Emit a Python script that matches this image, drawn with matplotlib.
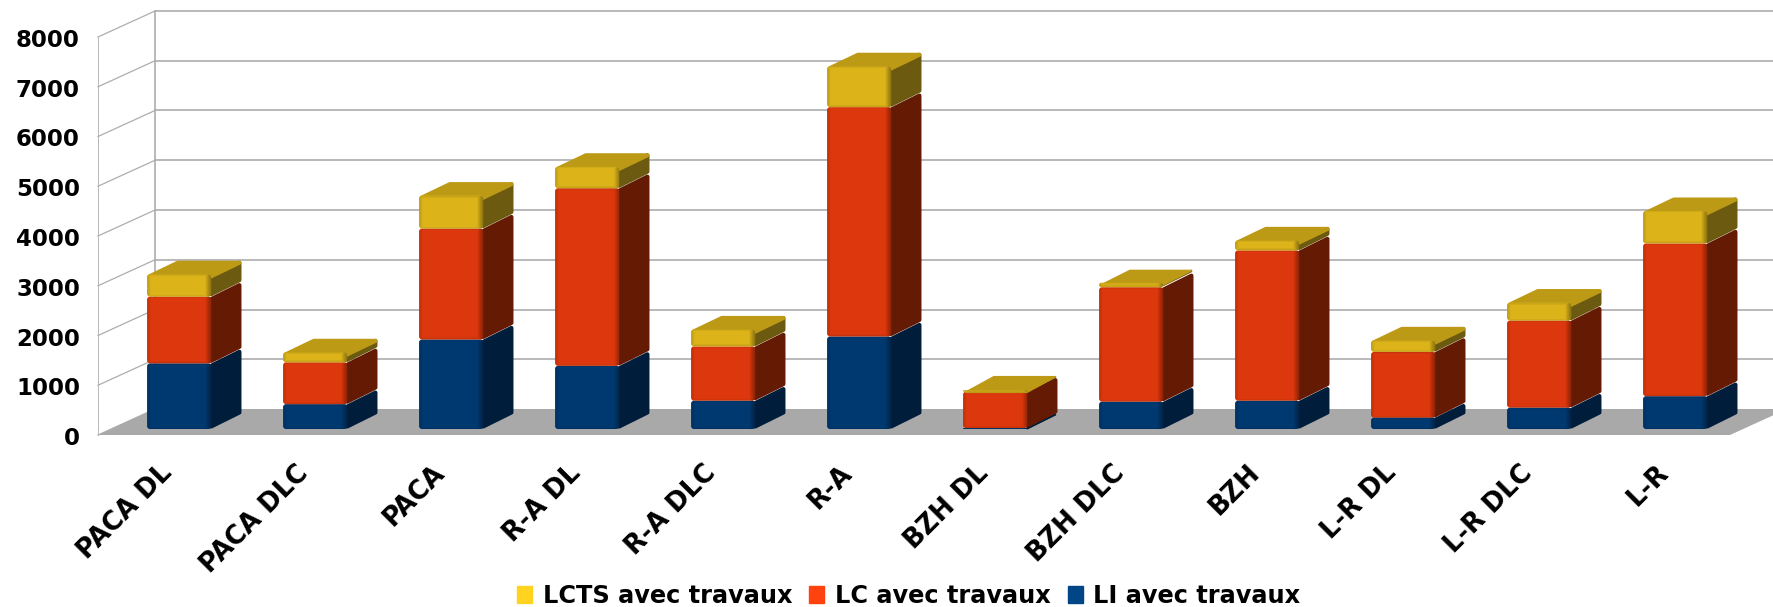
import numpy as np
import matplotlib
matplotlib.use('Agg')
import matplotlib.pyplot as plt
from matplotlib.colors import to_rgb
from matplotlib.patches import FancyBboxPatch, Patch, Polygon
from matplotlib.transforms import ScaledTranslation

categories = ['PACA DL', 'PACA DLC', 'PACA', 'R-A DL', 'R-A DLC', 'R-A',
              'BZH DL', 'BZH DLC', 'BZH', 'L-R DL', 'L-R DLC', 'L-R']
li = [1320, 500, 1800, 1270, 570, 1860, 20, 550, 570, 230, 430, 660]
lc = [1340, 840, 2230, 3570, 1090, 4610, 730, 2300, 3020, 1320, 1750, 3070]
lcts = [450, 200, 660, 430, 340, 820, 30, 90, 200, 230, 360, 650]
yticks = [0, 1000, 2000, 3000, 4000, 5000, 6000, 7000, 8000]

# couleurs: face avant, cote, dessus
BLUE = ('#00396f', '#001e3b', '#00396f')
RED = ('#dd380d', '#651a04', '#dd380d')
YELLOW = ('#dcb41a', '#6b5a10', '#bd9a16')

W, H = 1773, 607
PX_X = 1 / 136      # un pixel en unites de categorie
PX_Y = 8000 / 398   # un pixel en unites de valeur
DX = 57 * PX_X      # profondeur du plancher
DY = 26 * PX_Y
BAR_W = 64 * PX_X
D0 = 0.23           # debut des barres dans la profondeur
D1 = 0.77           # fin des barres
GRID = '#adadad'
FLOOR = '#a9a9a9'


def edge_shade(nx, ny, dark):
    # image RGBA: bords assombris pour imiter le relief
    xs = np.arange(nx) + 0.5
    ys = np.arange(ny) + 0.5
    left = np.clip(1 - xs / 4, 0, 1) * 0.35
    right = np.clip(1 - (nx - xs) / 6, 0, 1) * 0.8
    ax_part = np.maximum(left, right)
    edge = np.minimum(ys, ny - ys)
    ay_part = np.clip(1 - edge / 2.5, 0, 1) * 0.25
    alpha = np.maximum(ax_part[None, :], ay_part[:, None])
    img = np.zeros((ny, nx, 4))
    img[..., :3] = to_rgb(dark)
    img[..., 3] = alpha
    return img


def draw_segment(ax, x0, base, height, colors, z, top=False):
    x1 = x0 + BAR_W
    y0 = base + D0 * DY
    y1 = y0 + height
    ddx = (D1 - D0) * DX
    ddy = (D1 - D0) * DY
    # retrait + trait epais a joint rond = coins arrondis
    ins_y = min(2.5 * PX_Y, height * 0.4)
    ins_x = 2.5 * PX_X
    lw = 3.0 if height > 6 * PX_Y else 1.2

    side = Polygon([(x1, y0 + ins_y), (x1 + ddx - ins_x, y0 + ddy + ins_y),
                    (x1 + ddx - ins_x, y1 + ddy - ins_y), (x1, y1 - ins_y)],
                   closed=True, fc=colors[1], ec=colors[1], lw=lw,
                   joinstyle='round', zorder=z, clip_on=False)
    ax.add_patch(side)
    if top:
        roof = Polygon([(x0 + ins_x, y1 - 2 * PX_Y), (x1, y1 - 2 * PX_Y),
                        (x1 + ddx - ins_x, y1 + ddy - ins_y),
                        (x0 + ddx, y1 + ddy - ins_y)],
                       closed=True, fc=colors[2], ec=colors[2], lw=lw,
                       joinstyle='round', zorder=z + 0.05, clip_on=False)
        ax.add_patch(roof)

    ry = min(3 * PX_Y, height / 2)
    rx = ry * PX_X / PX_Y
    face = FancyBboxPatch((x0 + rx, y0 + ry), BAR_W - 2 * rx, height - 2 * ry,
                          boxstyle='round,pad=%f,rounding_size=%f' % (rx, rx),
                          mutation_aspect=PX_Y / PX_X,
                          fc=colors[0], ec='none', zorder=z + 0.1, clip_on=False)
    ax.add_patch(face)
    ny = max(int(round(height / PX_Y)), 2)
    dark = tuple(0.55 * c for c in to_rgb(colors[0]))
    im = ax.imshow(edge_shade(64, ny, dark), extent=[x0, x1, y0, y1],
                   aspect='auto', zorder=z + 0.2, interpolation='bilinear')
    im.set_clip_path(face)


fig = plt.figure(figsize=(W / 100, H / 100), dpi=100)
ax = fig.add_axes([98 / W, (H - 435) / H, 1632 / W, 398 / H])
n = len(categories)

# plancher et parois
ax.add_patch(Polygon([(0, 0), (n, 0), (n + DX, DY), (DX, DY)], closed=True,
                     fc=FLOOR, ec='none', zorder=1, clip_on=False))
for v in yticks:
    if v > 0:
        ax.plot([DX, n + DX], [v + DY, v + DY], color=GRID, lw=1.2,
                zorder=0.5, clip_on=False)
    ax.plot([0, DX], [v, v + DY], color=GRID, lw=0.9, zorder=0.5, clip_on=False)
ax.plot([DX, DX], [DY, 8000 + DY], color=GRID, lw=1.2, zorder=0.5, clip_on=False)
ax.plot([0, 0], [0, 8000], color=GRID, lw=0.6, zorder=0.5, clip_on=False)

# barres empilees
for i in range(n):
    x0 = i + (1 - BAR_W) / 2 + D0 * DX
    z = 2 + i
    draw_segment(ax, x0, 0, li[i], BLUE, z)
    draw_segment(ax, x0, li[i], lc[i], RED, z + 0.3)
    draw_segment(ax, x0, li[i] + lc[i], lcts[i], YELLOW, z + 0.6, top=True)

ax.set_xlim(0, n)
ax.set_ylim(0, 8000)
ax.set_xticks(np.arange(n) + 0.45)
ax.set_xticklabels(categories, rotation=45, ha='right', rotation_mode='anchor',
                   fontsize=18.5, fontweight='bold')
ax.set_yticks(yticks)
ax.set_yticklabels(yticks, fontsize=16.5, fontweight='bold')
ax.tick_params(axis='x', length=0, pad=18)
ax.tick_params(axis='y', length=0, pad=13)
for lab in ax.get_yticklabels():
    lab.set_transform(lab.get_transform() + ScaledTranslation(0, -1 / 100, fig.dpi_scale_trans))
for s in ax.spines.values():
    s.set_visible(False)
ax.patch.set_alpha(0)

handles = [Patch(color='#ffd320', label='LCTS avec travaux'),
           Patch(color='#ff420e', label='LC avec travaux'),
           Patch(color='#004586', label='LI avec travaux')]
fig.legend(handles=handles, ncol=3, frameon=False, loc='center',
           bbox_to_anchor=(909 / W, (H - 596) / H), handlelength=0.62,
           handleheight=0.72, handletextpad=0.45, columnspacing=0.7,
           prop={'size': 17.3, 'weight': 'bold'})

fig.savefig('out.png', dpi=100)
